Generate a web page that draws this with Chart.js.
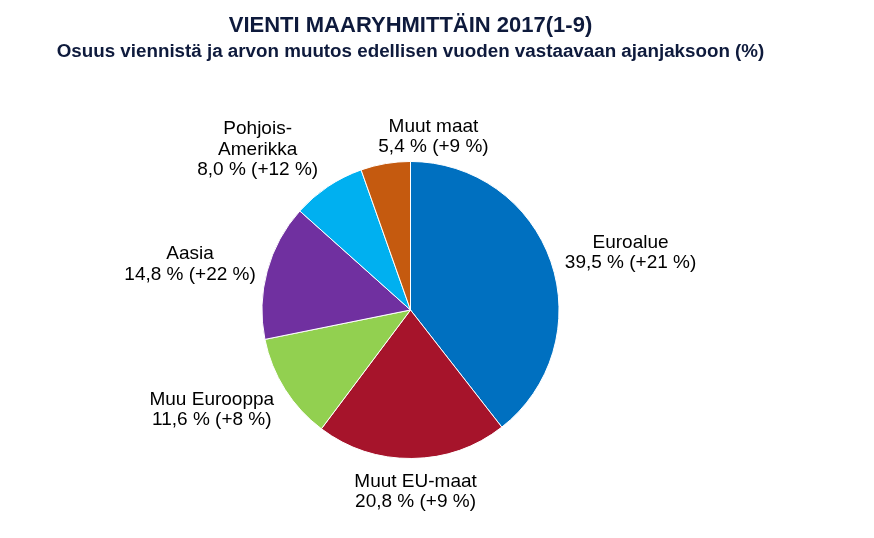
<!DOCTYPE html>
<html>
<head>
<meta charset="utf-8">
<script src="https://cdn.jsdelivr.net/npm/chart.js@4"></script>
<style>
  html, body { margin: 0; padding: 0; background: #fff; }
  #wrap { width: 874px; height: 538px; }
</style>
</head>
<body>
<div id="wrap"><canvas id="vientiChart"></canvas></div>
<script>
// osuus viennistä (%) ja arvon muutos (%)
var categories = ['Euroalue', 'Muut EU-maat', 'Muu Eurooppa', 'Aasia', ['Pohjois-', 'Amerikka'], 'Muut maat'];
var shares = [39.5, 20.8, 11.6, 14.8, 8.0, 5.4];
var changes = [21, 9, 8, 22, 12, 9];

var colors = ['#0070C0', '#A6142B', '#92D050', '#7030A0', '#00B0F0', '#C55A0F'];
// label nudges (x, y) relative to the outside-end position
var labelShift = [[8, 1], [3, 3], [-12, 4], [-4, 1], [-31, -3], [59, 3]];

function fmt(v) { return v.toFixed(1).replace('.', ','); }

document.addEventListener('DOMContentLoaded', function() {
  var ctx = document.getElementById('vientiChart');
  new Chart(ctx, {
    type: 'pie',
    data: {
      labels: categories,
      datasets: [{
        data: shares,
        backgroundColor: colors,
        borderColor: '#ffffff',
        borderWidth: 1
      }]
    },
    options: {
      responsive: true,
      maintainAspectRatio: false,
      animation: false,
      layout: { padding: { left: 0, right: 53, top: 0, bottom: 79 } },
      plugins: {
        legend: { display: false },
        tooltip: { enabled: false },
        title: {
          display: true,
          text: 'VIENTI MAARYHMITTÄIN 2017(1-9)',
          color: '#0E1A3C',
          font: { family: 'Liberation Sans, Arial, sans-serif', size: 22, weight: 'bold', lineHeight: 1.2 },
          padding: { top: 13, bottom: 0 }
        },
        subtitle: {
          display: true,
          text: 'Osuus viennistä ja arvon muutos edellisen vuoden vastaavaan ajanjaksoon (%)',
          color: '#0E1A3C',
          font: { family: 'Liberation Sans, Arial, sans-serif', size: 18.8, weight: 'bold', lineHeight: 1.2 },
          padding: { top: 1, bottom: 98 }
        }
      }
    },
    plugins: [{
      afterDatasetsDraw: function(chart) {
        var c = chart.ctx;
        var meta = chart.getDatasetMeta(0);
        var lh = 20.5;
        c.save();
        c.font = '19px "Liberation Sans", Arial, sans-serif';
        c.fillStyle = '#000';
        c.textAlign = 'center';
        c.textBaseline = 'middle';
        meta.data.forEach(function(arc, i) {
          var lab = categories[i];
          var lines = (Array.isArray(lab) ? lab.slice() : [lab]);
          lines.push(fmt(shares[i]) + ' % (+' + changes[i] + ' %)');
          var w = 0;
          lines.forEach(function(t) { w = Math.max(w, c.measureText(t).width); });
          var h = lines.length * lh;
          var mid = (arc.startAngle + arc.endAngle) / 2;
          var ux = Math.cos(mid), uy = Math.sin(mid);
          var R = arc.outerRadius + 10;
          var cx = arc.x + R * ux + w / 2 * ux + labelShift[i][0];
          var cy = arc.y + R * uy + h / 2 * uy + labelShift[i][1];
          lines.forEach(function(t, k) {
            c.fillText(t, cx, cy - h / 2 + lh * (k + 0.5));
          });
        });
        c.restore();
      }
    }]
  });
});
</script>
</body>
</html>
